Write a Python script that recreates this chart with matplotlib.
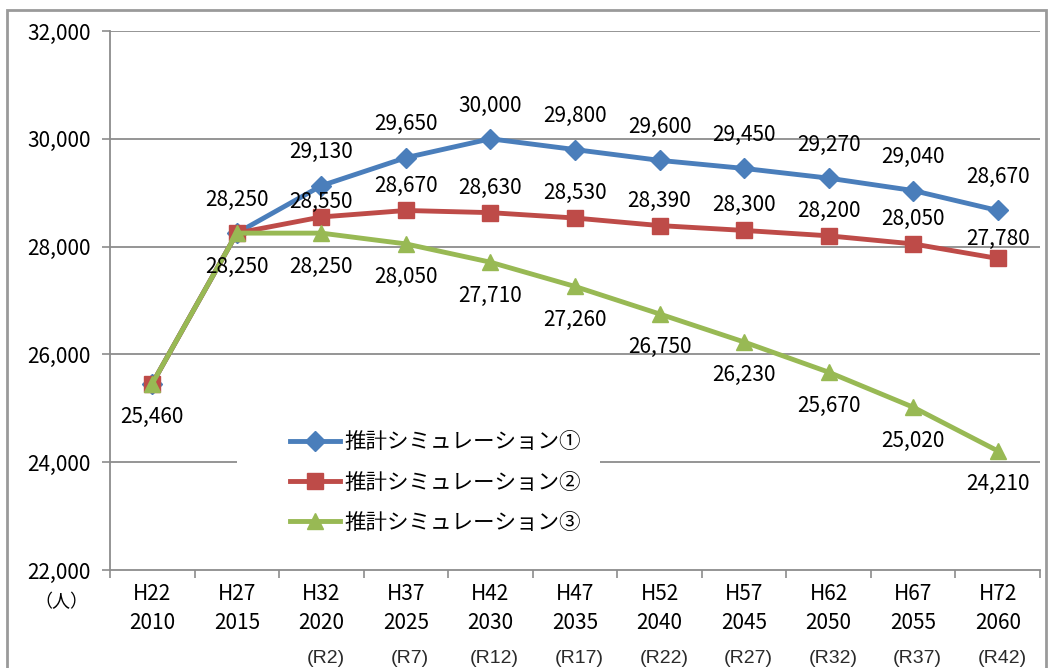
import numpy as np
import matplotlib
matplotlib.use('Agg')
import matplotlib.pyplot as plt
from matplotlib.patches import Rectangle
import matplotlib.transforms as mtransforms

plt.rcParams['font.family'] = ['Noto Sans CJK JP', 'DejaVu Sans']

# data
heisei = ['H22', 'H27', 'H32', 'H37', 'H42', 'H47', 'H52', 'H57', 'H62', 'H67', 'H72']
years = ['2010', '2015', '2020', '2025', '2030', '2035', '2040', '2045', '2050', '2055', '2060']
reiwa = ['', '', '(R2)', '(R7)', '(R12)', '(R17)', '(R22)', '(R27)', '(R32)', '(R37)', '(R42)']
sim1 = [25460, 28250, 29130, 29650, 30000, 29800, 29600, 29450, 29270, 29040, 28670]
sim2 = [25460, 28250, 28550, 28670, 28630, 28530, 28390, 28300, 28200, 28050, 27780]
sim3 = [25460, 28250, 28250, 28050, 27710, 27260, 26750, 26230, 25670, 25020, 24210]
names = ['推計シミュレーション①', '推計シミュレーション②', '推計シミュレーション③']

x = np.arange(len(years))

fig = plt.figure(figsize=(10.52, 6.68), dpi=100)
ax = fig.add_axes([0.1046, 0.1467, 0.8840, 0.8069])

# outer frame
fig.patches.append(Rectangle((7/1052, -0.02), 1039/1052, 0.012 + (668-5)/668,
                             transform=fig.transFigure, fill=False,
                             edgecolor='#9a9a9a', linewidth=2))

gray = '#8c8c8c'
for yv in range(24000, 32001, 2000):
    ax.axhline(yv, color=gray, linewidth=1.3, zorder=0)

# white area behind the legend hides part of the gridline
ax.add_patch(Rectangle((0.1366, 0.056), 0.39, 0.222, transform=ax.transAxes,
                       facecolor='white', edgecolor='none', zorder=1))

blue, red, green = '#4a7ebb', '#be4b48', '#98b954'
ax.plot(x, sim1, color=blue, lw=3.5, marker='D', ms=10, label=names[0], zorder=3)
ax.plot(x, sim2, color=red, lw=3.5, marker='s', ms=11, label=names[1], zorder=4)
ax.plot(x, sim3, color=green, lw=3.5, marker='^', ms=11, label=names[2], zorder=5)

fs = 15
# data labels (skip hidden duplicates at the start)
for i in range(1, len(x)):
    ax.annotate(f'{sim1[i]:,}', (x[i], sim1[i]), xytext=(0, 24), textcoords='offset points',
                ha='center', va='center', fontsize=fs, zorder=6)
for i in range(2, len(x)):
    dy = 18
    if i == 2:
        dy = 11
    if i == len(x) - 1:
        dy = 14
    ax.annotate(f'{sim2[i]:,}', (x[i], sim2[i]), xytext=(0, dy), textcoords='offset points',
                ha='center', va='center', fontsize=fs, zorder=6)
for i in range(len(x)):
    ax.annotate(f'{sim3[i]:,}', (x[i], sim3[i]), xytext=(0, -24), textcoords='offset points',
                ha='center', va='center', fontsize=fs, zorder=6)

ax.set_xlim(-0.5, 10.5)
ax.set_ylim(22000, 32000)
ax.set_yticks(range(22000, 32001, 2000))
ax.set_yticklabels([f'{v:,}' for v in range(22000, 32001, 2000)], fontsize=fs)
ax.tick_params(axis='y', length=6, width=1.2, color=gray, pad=8)

ax.set_xticks(np.arange(-0.5, 11, 1))
ax.set_xticklabels([])
ax.tick_params(axis='x', which='major', length=6, width=1.2, color=gray)
ax.set_xticks(x, minor=True)
ax.set_xticklabels([h + '\n' + y for h, y in zip(heisei, years)], minor=True,
                   fontsize=fs, linespacing=1.45)
ax.tick_params(axis='x', which='minor', length=0, pad=9)

trans = mtransforms.blended_transform_factory(ax.transData, ax.transAxes)
for i, r in enumerate(reiwa):
    if r:
        ax.text(x[i] + 0.05, -0.165, r, transform=trans, ha='center', va='center',
                fontsize=14, color='#2a2a2a', family=['Liberation Sans', 'DejaVu Sans'])
ax.text(-1.07, -0.06, '（人）', transform=trans, ha='center', va='center', fontsize=13)

for s in ['top', 'right']:
    ax.spines[s].set_visible(False)
ax.spines['left'].set_color(gray)
ax.spines['bottom'].set_color(gray)
ax.spines['left'].set_linewidth(1.3)
ax.spines['bottom'].set_linewidth(1.3)

leg = ax.legend(loc='upper left', bbox_to_anchor=(0.1935, 0.257), frameon=False,
                fontsize=15.5, handlelength=2.3, handletextpad=0.25, labelspacing=0.84,
                borderpad=0, borderaxespad=0)
leg.set_zorder(7)

fig.savefig('out.png', dpi=100)
